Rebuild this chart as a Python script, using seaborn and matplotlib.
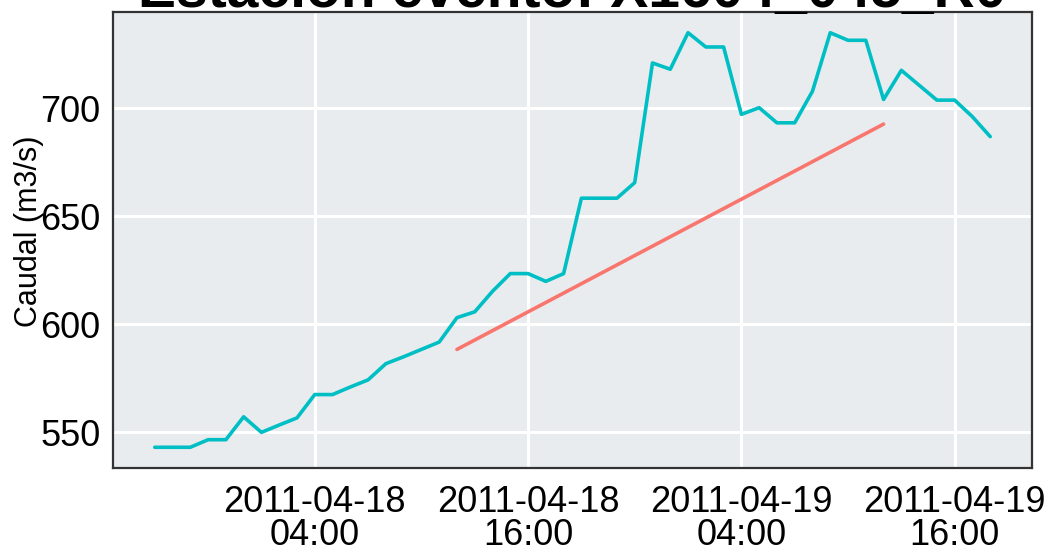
"""Caudal por hora en la estación, con la recta del evento."""

import matplotlib

matplotlib.use("Agg")

import matplotlib.dates as mdates
import matplotlib.pyplot as plt
import pandas as pd
import seaborn as sns


TITLE = "Estación evento: X1604_045_R0"

# caudal observado, una lectura por hora desde 2011-04-17 19:00
OBS_START = "2011-04-17 19:00"
obs_caudal = [
    543.0, 543.0, 543.0, 546.5, 546.5, 557.1, 549.9, 553.3,
    556.6, 567.4, 567.4, 570.9, 574.2, 581.7, 584.9, 588.3,
    591.7, 603.0, 605.7, 615.2, 623.4, 623.4, 619.8, 623.4,
    658.3, 658.3, 658.3, 665.5, 720.9, 718.0, 734.9, 728.3,
    728.3, 697.1, 700.2, 693.2, 693.2, 707.8, 734.9, 731.4,
    731.4, 704.0, 717.5, 710.6, 703.7, 703.7, 696.0, 686.8,
]

# recta del evento
evento_fechas = ["2011-04-18 12:00", "2011-04-19 12:00"]
evento_caudal = [588.3, 692.6]

PALETTE = {"observado": "#00BFC4", "evento": "#F8766D"}

sns.set_theme(style="darkgrid")
plt.rcParams["font.family"] = ["Liberation Sans", "DejaVu Sans"]

obs = pd.DataFrame({
    "fecha": pd.date_range(OBS_START, periods=len(obs_caudal), freq="h"),
    "caudal": obs_caudal,
    "serie": "observado",
})
evento = pd.DataFrame({
    "fecha": pd.to_datetime(evento_fechas),
    "caudal": evento_caudal,
    "serie": "evento",
})
df = pd.concat([obs, evento], ignore_index=True)

fig = plt.figure(figsize=(10.49, 5.56), dpi=100)
ax = fig.add_axes([113 / 1049, 1 - 468 / 556, 919 / 1049, 456 / 556])
ax.set_facecolor("#E9ECEF")

sns.lineplot(
    data=df,
    x="fecha",
    y="caudal",
    hue="serie",
    hue_order=["observado", "evento"],
    palette=PALETTE,
    linewidth=2.6,
    legend=False,
    ax=ax,
)
ax.margins(x=0.05, y=0.05)

ax.xaxis.set_major_locator(mdates.HourLocator(byhour=[4, 16]))
ax.xaxis.set_major_formatter(mdates.DateFormatter("%Y-%m-%d\n%H:%M"))
ax.set_yticks([550, 600, 650, 700])

ax.grid(True, color="white", linewidth=2.2)
for spine in ax.spines.values():
    spine.set_visible(True)
    spine.set_color("#333333")
    spine.set_linewidth(1.6)

ax.tick_params(axis="both", which="major", length=6, width=1.5,
               color="#333333", labelsize=26, labelcolor="black", pad=3)
ax.tick_params(axis="x", pad=6)
for lab in ax.get_xticklabels():
    lab.set_linespacing(0.95)

ax.set_xlabel("")
ax.set_ylabel("Caudal (m3/s)", fontsize=22, color="black")
ax.yaxis.set_label_coords(-0.075, 0.52)

fig.text(0.5 * (113 + 1032) / 1049, 1 - 7 / 556, TITLE, ha="center",
         va="baseline", fontsize=41, fontweight="bold", color="black")

fig.savefig("out.png", dpi=100)
